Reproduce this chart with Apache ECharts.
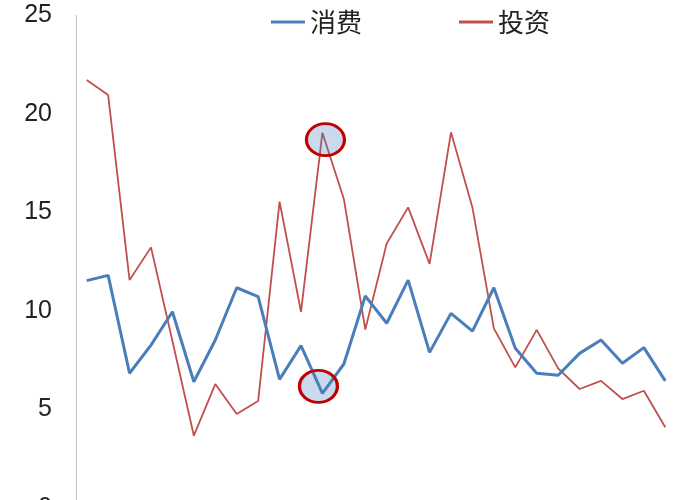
<!DOCTYPE html>
<html>
<head>
<meta charset="utf-8">
<script src="https://cdn.jsdelivr.net/npm/echarts@6/dist/echarts.min.js"></script>
<style>
html,body{margin:0;padding:0;background:#fff;}
#chart{width:700px;height:500px;}
</style>
</head>
<body>
<div id="chart"></div>
<script>
const categories = ['1','2','3','4','5','6','7','8','9','10','11','12','13','14','15','16','17','18','19','20','21','22','23','24','25','26','27','28'];
const consumption = [11.54,11.81,6.84,8.27,9.96,6.41,8.53,11.18,10.73,6.53,8.24,5.82,7.31,10.76,9.38,11.57,7.90,9.88,8.98,11.18,8.11,6.84,6.74,7.85,8.53,7.35,8.14,6.45];
const investment = [21.73,20.96,11.57,13.23,8.48,3.67,6.29,4.77,5.43,15.55,9.96,19.05,15.69,9.06,13.43,15.26,12.39,19.07,15.26,9.12,7.14,9.04,7.09,6.04,6.45,5.53,5.95,4.10];
const yTicks = [0,5,10,15,20,25];
const seriesNames = ['消费','投资'];
const highlightIndex = 11;

const chart = echarts.init(document.getElementById('chart'));
const ellipseStyle = {color:'rgba(79,129,189,0.3)', borderColor:'#c00000', borderWidth:3};
chart.setOption({
  animation:false,
  backgroundColor:'#fff',
  legend:{
    data:seriesNames,
    left:266, top:4,
    icon:'rect', itemWidth:34, itemHeight:3, itemGap:97,
    textStyle:{fontFamily:'Noto Sans CJK SC', fontSize:26, color:'#222'}
  },
  grid:{left:76, right:24, top:15.5, height:492.5, containLabel:false, outerBoundsMode:'none'},
  xAxis:{
    type:'category', data:categories, boundaryGap:true,
    axisLine:{show:true, lineStyle:{color:'#bfbfbf'}},
    axisTick:{show:false}, axisLabel:{show:false}, splitLine:{show:false}
  },
  yAxis:{
    type:'value', min:yTicks[0], max:yTicks[yTicks.length-1], interval:5,
    axisLine:{show:true, lineStyle:{color:'#bfbfbf', width:1}},
    axisTick:{show:false}, splitLine:{show:false},
    axisLabel:{fontFamily:'Liberation Sans', fontSize:25, color:'#222', margin:24}
  },
  series:[
    {
      name:seriesNames[0], type:'line', data:consumption, showSymbol:false,
      lineStyle:{color:'#4a7ebb', width:3}, itemStyle:{color:'#4a7ebb'}, z:3,
      markPoint:{
        symbol:'circle', symbolSize:[38,32], symbolOffset:[-4,-7],
        itemStyle:ellipseStyle, label:{show:false},
        data:[{coord:[highlightIndex, consumption[highlightIndex]]}]
      }
    },
    {
      name:seriesNames[1], type:'line', data:investment, showSymbol:false,
      lineStyle:{color:'#c0504d', width:1.8}, itemStyle:{color:'#c0504d'}, z:2,
      markPoint:{
        symbol:'circle', symbolSize:[38,32], symbolOffset:[3,7],
        itemStyle:ellipseStyle, label:{show:false},
        data:[{coord:[highlightIndex, investment[highlightIndex]]}]
      }
    }
  ]
});
</script>
</body>
</html>
